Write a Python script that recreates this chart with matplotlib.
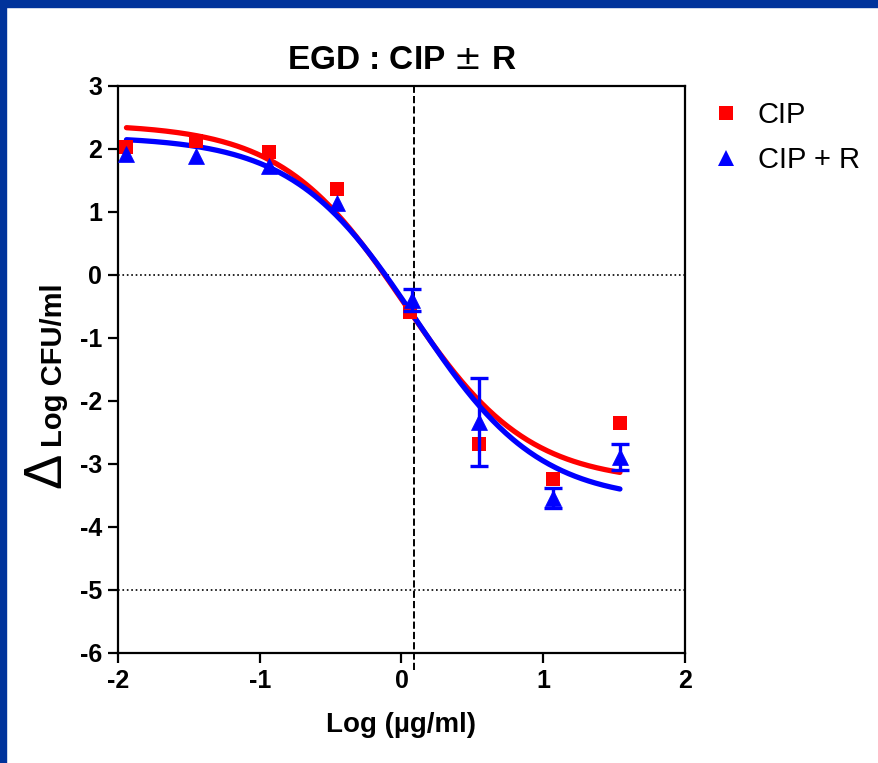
import matplotlib
matplotlib.use('Agg')
import matplotlib.pyplot as plt
from matplotlib.lines import Line2D
import numpy as np

plt.rcParams['font.family'] = ['Liberation Sans', 'DejaVu Sans']
plt.rcParams['axes.unicode_minus'] = False

# log concentration (ug/ml)
x_cip = [-1.94, -1.45, -0.935, -0.455, 0.06, 0.547, 1.069, 1.541]
y_cip = [2.03, 2.13, 1.96, 1.37, -0.59, -2.69, -3.24, -2.35]

x_cipr = [-1.94, -1.45, -0.935, -0.455, 0.074, 0.547, 1.069, 1.541]
y_cipr = [1.92, 1.89, 1.73, 1.14, -0.40, -2.33, -3.54, -2.89]
e_cipr = [0, 0, 0, 0, 0.17, 0.70, 0.16, 0.21]   # SD (0 = hidden by the marker)

# 4PL fit parameters (top, bottom, logEC50, hill)
fit_cip = (2.4, -3.3, 0.02, 1.0)
fit_cipr = (2.2, -3.6, 0.1, 1.0)
x_fit_range = (-1.94, 1.541)
mic_line = 0.085

def fourpl(x, top, bottom, c, h):
    return bottom + (top - bottom) / (1 + 10 ** (h * (x - c)))

fig = plt.figure(figsize=(8.79, 7.63), dpi=100)
# blue frame round the slide
fig.patches.append(plt.Rectangle((0, 0), 0.007, 1, transform=fig.transFigure, color='#00339B', zorder=0))
fig.patches.append(plt.Rectangle((0, 0.991), 1, 0.009, transform=fig.transFigure, color='#00339B', zorder=0))

ax = fig.add_axes([0.1342, 0.1442, 0.6451, 0.7431])

xx = np.linspace(x_fit_range[0], x_fit_range[1], 300)
ax.plot(xx, fourpl(xx, *fit_cip), '-', color='#FF0000', lw=3.8, zorder=3, solid_capstyle='round')
ax.plot(xx, fourpl(xx, *fit_cipr), '-', color='#0000FF', lw=3.8, zorder=4, solid_capstyle='round')

ax.plot(x_cip, y_cip, 's', color='#FF0000', ms=10, mew=0, zorder=5)

# error bars only where they show outside the marker
xe = [x for x, e in zip(x_cipr, e_cipr) if e > 0]
ye = [y for y, e in zip(y_cipr, e_cipr) if e > 0]
ee = [e for e in e_cipr if e > 0]
ax.errorbar(xe, ye, yerr=ee, fmt='none', ecolor='#0000FF', elinewidth=2.4,
            capsize=6.5, capthick=2.4, zorder=6)
ax.plot(x_cipr, y_cipr, '^', color='#0000FF', ms=12, mew=0.5, zorder=7)

ax.axhline(0, color='black', ls=':', lw=1.2, zorder=1)
ax.axhline(-5, color='black', ls=':', lw=1.2, zorder=1)
ax.plot([mic_line, mic_line], [-6.27, 3], color='black', ls='--', lw=1.4, zorder=1, clip_on=False)

ax.set_xlim(-2, 2)
ax.set_ylim(-6, 3)
ax.set_xticks([-2, -1, 0, 1, 2])
ax.set_yticks(range(-6, 4))
for s in ax.spines.values():
    s.set_linewidth(1.6)
ax.tick_params(direction='out', length=7.5, width=1.6, labelsize=18, pad=4)
for lab in ax.get_xticklabels() + ax.get_yticklabels():
    lab.set_fontweight('bold')

ax.set_title('EGD : CIP $\\pm$ R', fontsize=24, fontweight='bold', pad=12)
ax.set_xlabel('Log (\u00b5g/ml)', fontsize=20, fontweight='bold', labelpad=14)
fig.text(0.062, 0.522, 'Log CFU/ml', rotation=90, fontsize=21, fontweight='bold', ha='center', va='center')
fig.text(0.053, 0.384, '\u0394', rotation=90, fontsize=38, ha='center', va='center')

handles = [Line2D([], [], ls='none', marker='s', color='#FF0000', ms=10, mew=0),
           Line2D([], [], ls='none', marker='^', color='#0000FF', ms=12, mew=0)]
ax.legend(handles, ['CIP', 'CIP + R'], loc='upper left', bbox_to_anchor=(1.0, 1.02), frameon=False,
          fontsize=21, handletextpad=0.6, labelspacing=0.6, handlelength=1.0)

plt.savefig('out.png', dpi=100)
